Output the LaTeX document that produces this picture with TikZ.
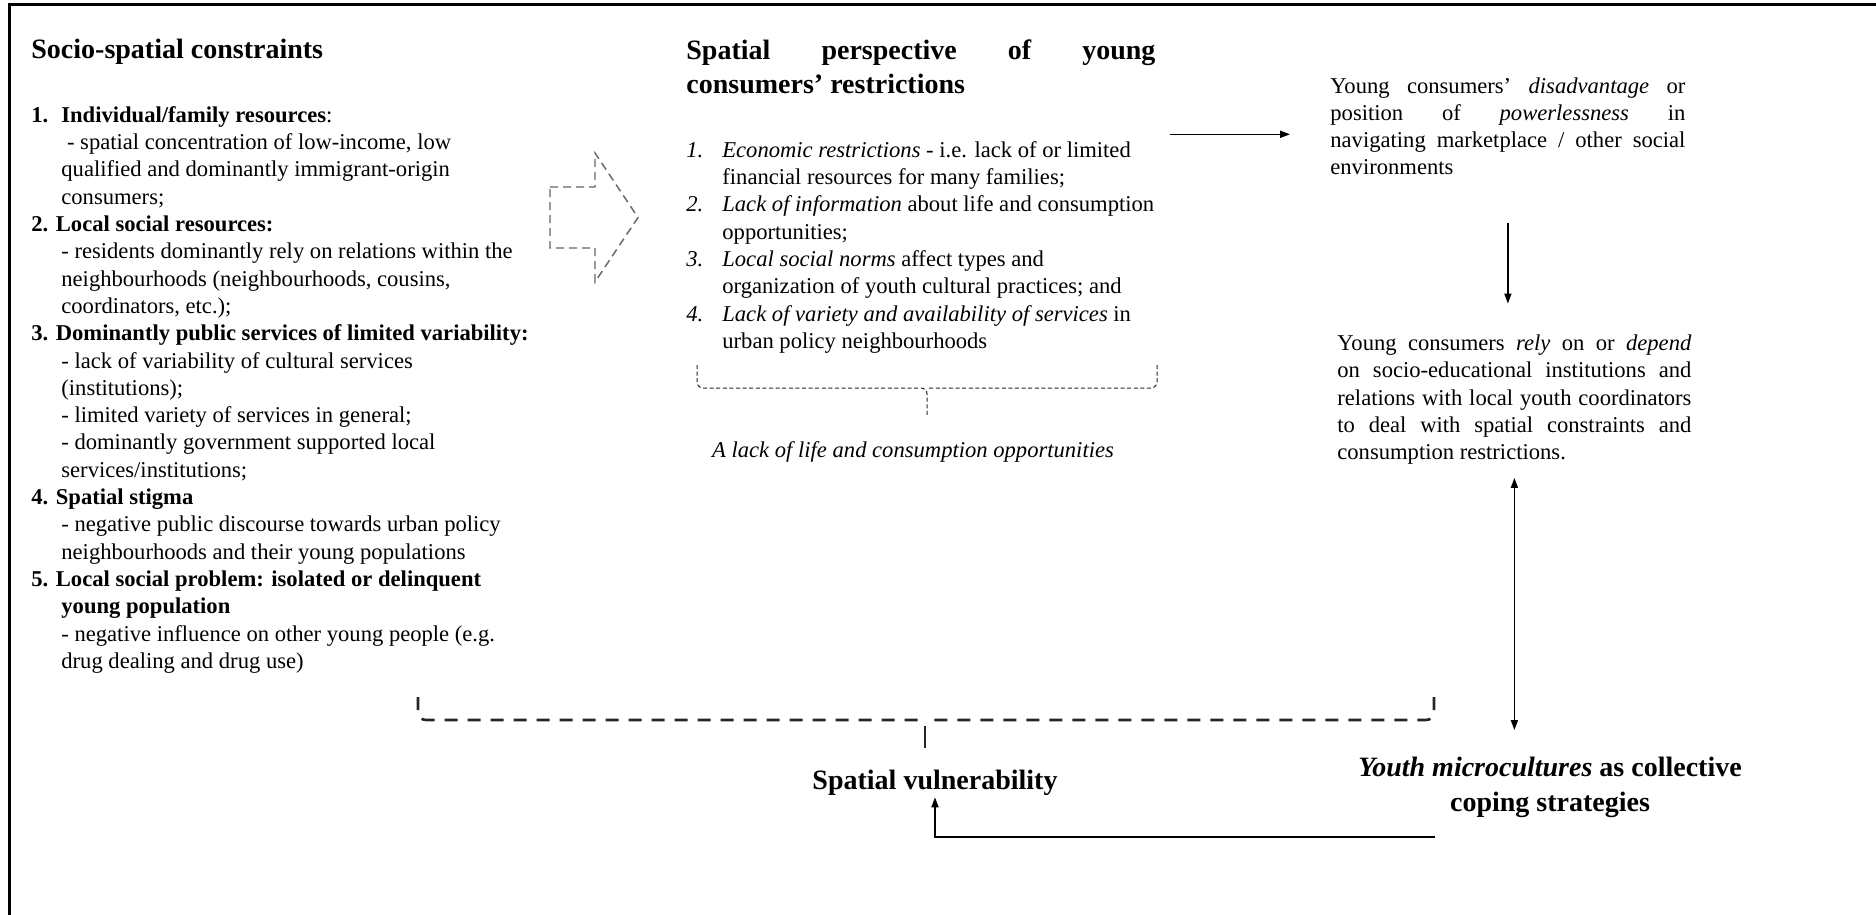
\documentclass[tikz,border=0pt]{standalone}
\usepackage{fontspec}
\setmainfont{Liberation Serif}
\usetikzlibrary{arrows.meta, positioning, calc}

\newcommand{\bodyfont}{\fontsize{11.3}{13.65}\selectfont}
\newcommand{\headfont}{\fontsize{14}{17}\selectfont\bfseries}
\newcommand{\lpad}{\hspace*{15pt}}
\newcommand{\mpad}{\hspace*{18pt}}
\newcommand{\lnum}[1]{\makebox[15pt][l]{#1}}
\newcommand{\mnum}[1]{\makebox[18pt][l]{#1}}

\begin{document}
\begin{tikzpicture}[
    x=0.5pt, y=-0.5pt,
    txt/.style={inner sep=0pt, font=\bodyfont, align=left},
    jtxt/.style={inner sep=0pt, font=\bodyfont, align=justify},
    head/.style={inner sep=0pt, font=\headfont},
    arr/.style={-{Triangle[length=5pt,width=3.6pt]}, line width=0.6pt},
    darr/.style={{Triangle[length=5pt,width=3.6pt]}-{Triangle[length=5pt,width=3.6pt]}, line width=0.6pt},
    frame/.style={line width=1.4pt},
    hollowarr/.style={draw=black!60, line width=0.7pt, dash pattern=on 4pt off 2.5pt},
    thinbrace/.style={draw=black!85, line width=0.5pt, dash pattern=on 2pt off 1.3pt, rounded corners=3pt},
    thickbrace/.style={draw=black!85, line width=1.3pt, dash pattern=on 6.5pt off 5pt, rounded corners=4pt},
    stem/.style={draw=black!85, line width=1.3pt, dash pattern=on 0pt off 3pt on 11pt off 20pt},
]
\useasboundingbox (0,0) rectangle (1876,915);
\fill[white] (0,0) rectangle (1876,915);

% frame: left and top edge only
\draw[frame] (9.7,915) -- (9.7,4.7) -- (1876,4.7);

% Left column: socio-spatial constraints
\node[head, anchor=base west] (sochead) at (31,59) {Socio-spatial constraints};
\node[txt, anchor=north west] (soclist) at (31,106)
    {\lnum{\textbf{1.}}\textbf{Individual/family resources}:\\
     \lpad\ - spatial concentration of low-income, low\\
     \lpad qualified and dominantly immigrant-origin\\
     \lpad consumers;\\
     \textbf{2. Local social resources:}\\
     \lpad - residents dominantly rely on relations within the\\
     \lpad neighbourhoods (neighbourhoods, cousins,\\
     \lpad coordinators, etc.);\\
     \textbf{3. Dominantly public services of limited variability:}\\
     \lpad - lack of variability of cultural services\\
     \lpad (institutions);\\
     \lpad - limited variety of services in general;\\
     \lpad - dominantly government supported local\\
     \lpad services/institutions;\\
     \textbf{4. Spatial stigma}\\
     \lpad - negative public discourse towards urban policy\\
     \lpad neighbourhoods and their young populations\\
     \textbf{5. Local social problem: isolated or delinquent}\\
     \lpad\textbf{young population}\\
     \lpad - negative influence on other young people (e.g.\\
     \lpad drug dealing and drug use)};

% hollow dashed arrow
\draw[hollowarr] (550,187) -- (595,187) -- (595,153) -- (638,217.5)
    -- (595,282) -- (595,248) -- (550,248) -- cycle;

% Middle column: restrictions
\node[head, anchor=north west, text width=234.5pt, align=justify] (perhead) at (686,39)
    {Spatial perspective of young\linebreak consumers’ restrictions};
\node[txt, anchor=north west] (perlist) at (686,141)
    {\mnum{\textit{1.}}\textit{Economic restrictions} - i.e. lack of or limited\\
     \mpad financial resources for many families;\\
     \mnum{\textit{2.}}\textit{Lack of information} about life and consumption\\
     \mpad opportunities;\\
     \mnum{\textit{3.}}\textit{Local social norms} affect types and\\
     \mpad organization of youth cultural practices; and\\
     \mnum{\textit{4.}}\textit{Lack of variety and availability of services} in\\
     \mpad urban policy neighbourhoods};

\coordinate (mbl) at (697,365);
\coordinate (mbr) at (1157,365);
\coordinate (mbm) at (927,388);
\draw[thinbrace] (mbl) |- (mbm) -- ++(0,29);
\draw[thinbrace] (mbr) |- (mbm);
\node[txt, anchor=base, font=\bodyfont\itshape] (lackopp) at (913,457)
    {A lack of life and consumption opportunities};

% Right column
\node[jtxt, anchor=north west, text width=177.5pt] (disadv) at (1330,77)
    {Young consumers’ \textit{disadvantage} or\linebreak position of \textit{powerlessness} in\linebreak
     navigating marketplace / other social\linebreak environments};
\node[jtxt, anchor=north west, text width=177pt] (rely) at (1337,334.5)
    {Young consumers \textit{rely} on or \textit{depend}\linebreak on socio-educational institutions and\linebreak
     relations with local youth coordinators\linebreak to deal with spatial constraints and\linebreak
     consumption restrictions.};

% Bottom row
\node[head, align=center, anchor=north, font=\fontsize{14}{17.3}\selectfont\bfseries] (youth) at (1550,757)
    {\textit{Youth microcultures} as collective\\coping strategies};
\node[head, anchor=base] (vuln) at (935,789) {Spatial vulnerability};

\coordinate (bbl) at (418,697);
\coordinate (bbr) at (1434,697);
\coordinate (bbm) at (925,720);
\draw[thickbrace] (bbl) |- (bbm);
\draw[thickbrace] (bbr) |- (bbm);
\draw[stem] (bbm) -- ++(0,28);

% Arrows
\coordinate (dw) at ([yshift=-4pt]disadv.west);
\draw[arr, shorten <=7.5pt, shorten >=20pt] (perlist.east |- dw) -- (dw);
\draw[arr, shorten <=23.5pt, shorten >=15.5pt] (disadv.south) -- (disadv.south |- rely.north);
\draw[darr, shorten <=6.5pt, shorten >=13.5pt] (rely.south) -- (rely.south |- youth.north);
\coordinate (ycope) at (1435,837);
\draw[arr, shorten >=1pt] (ycope) -| (vuln.south);

\end{tikzpicture}
\end{document}
